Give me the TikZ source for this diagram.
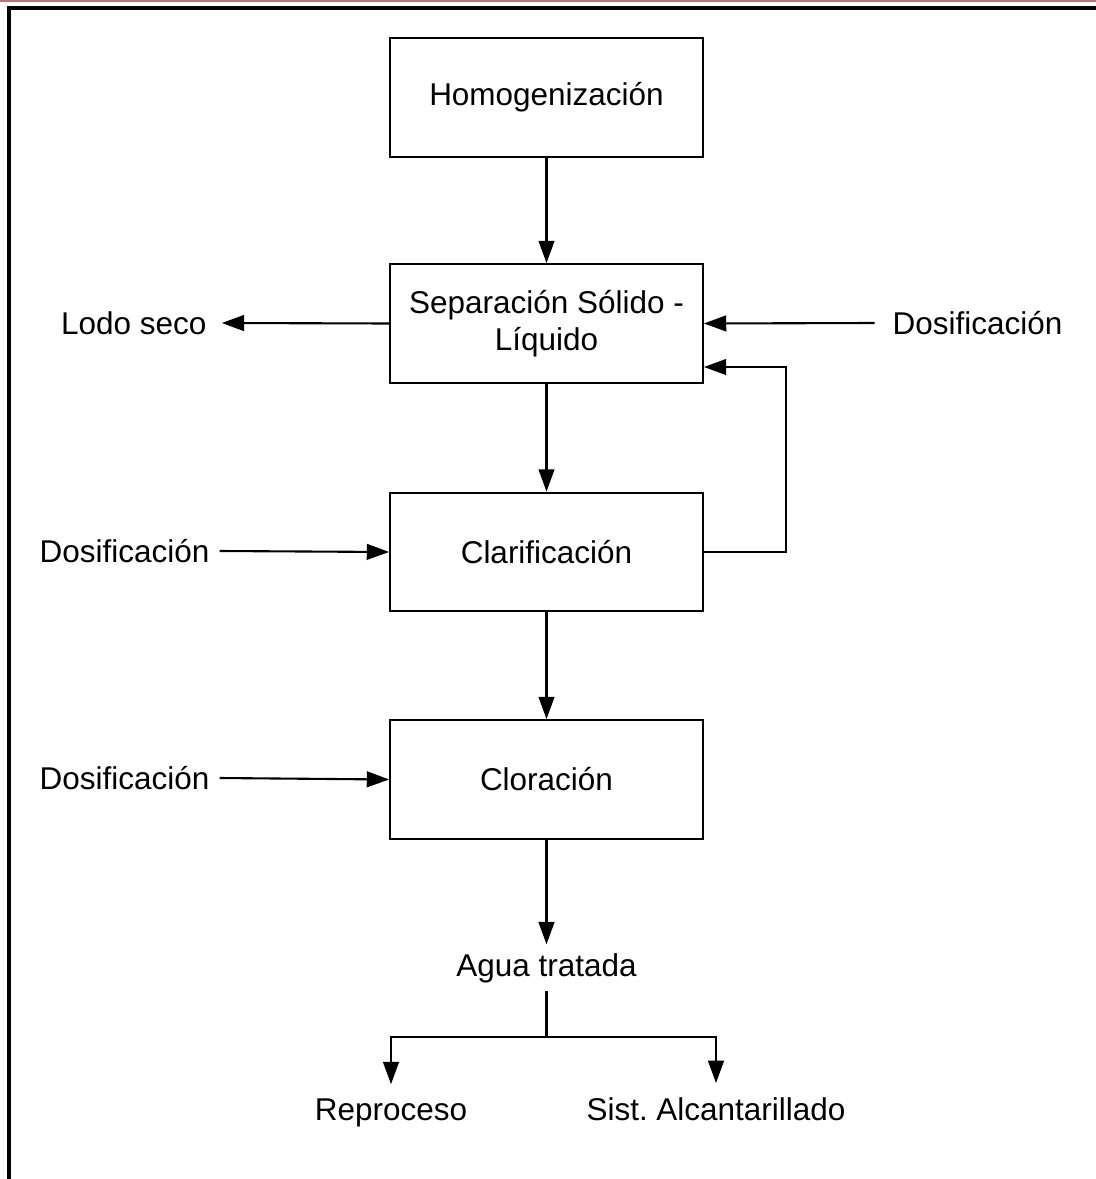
\documentclass[tikz,border=0pt]{standalone}
\usepackage{fontspec}
\setmainfont{Liberation Sans}
\usetikzlibrary{arrows.meta,positioning}
\definecolor{pagered}{RGB}{190,115,115}

\begin{document}
\begin{tikzpicture}[x=0.0134cm, y=-0.0134cm,
    font=\fontsize{12}{14}\selectfont, >={Triangle[length=8.5pt, width=6pt]},
    line width=0.8pt,
    proc/.style={draw, line width=0.8pt,
                 minimum width=4.19cm, minimum height=1.59cm,
                 align=center, inner sep=2pt},
    lbl/.style={inner sep=1pt, align=center}]

  \useasboundingbox (0,0) rectangle (1096,1179);

  %% ── Page frame (cut off at right and bottom) ───────────────
  \draw[pagered, line width=0.5pt] (0,1) -- (1096,1);
  \draw[line width=1.2pt] (1096,8) -- (9,8) -- (9,1179);

  %% ── Main column ────────────────────────────────────────────
  \node[proc] (homog) at (546.5,97.5)  {Homogenización};
  \node[proc] (sep)   at (546.5,323.5) {Separación Sólido -\\Líquido};
  \node[proc] (clar)  at (546.5,552)   {Clarificación};
  \node[proc] (clor)  at (546.5,779.5) {Cloración};

  \draw[->] (homog.south) -- (sep.north);
  \draw[->] (sep.south) -- (clar.north);
  \draw[->] (clar.south) -- (clor.north);

  %% ── Side streams ───────────────────────────────────────────
  \node[lbl, anchor=east] (lodo)  at (210,323) {Lodo seco};
  \node[lbl, anchor=west] (dos1)  at (889,323) {Dosificación};
  \node[lbl, anchor=east] (dos2)  at (213,551) {Dosificación};
  \node[lbl, anchor=east] (dos3)  at (213,778) {Dosificación};

  \draw[->] (sep.west) -- ([xshift=4.5pt]lodo.east);
  \draw[->] ([xshift=-5.5pt]dos1.west) -- (sep.east);
  \draw[->] ([xshift=2.5pt]dos2.east) -- (clar.west);
  \draw[->] ([xshift=2.5pt]dos3.east) -- (clor.west);

  %% recirculation from clarifier
  \coordinate (recirc) at (786,367);
  \draw[->] (clar.east) -| (recirc) -- (sep.east |- recirc);

  %% ── Treated water and its destinations ─────────────────────
  \node[lbl, anchor=base] (agua) at (546.5,976)  {Agua tratada};
  \node[lbl, anchor=base] (repro) at (391,1120)  {Reproceso};
  \node[lbl, anchor=base] (alcan) at (716,1120)  {Sist.\ Alcantarillado};

  \draw[->] (clor.south) -- ([yshift=2pt]agua.north);
  \coordinate (split) at (546.5,1037);
  \draw ([yshift=-2pt]agua.south) -- (split);
  \draw[->] (split) -| ([yshift=4pt]repro.north);
  \draw[->] (split) -| ([yshift=4pt]alcan.north);

\end{tikzpicture}
\end{document}
